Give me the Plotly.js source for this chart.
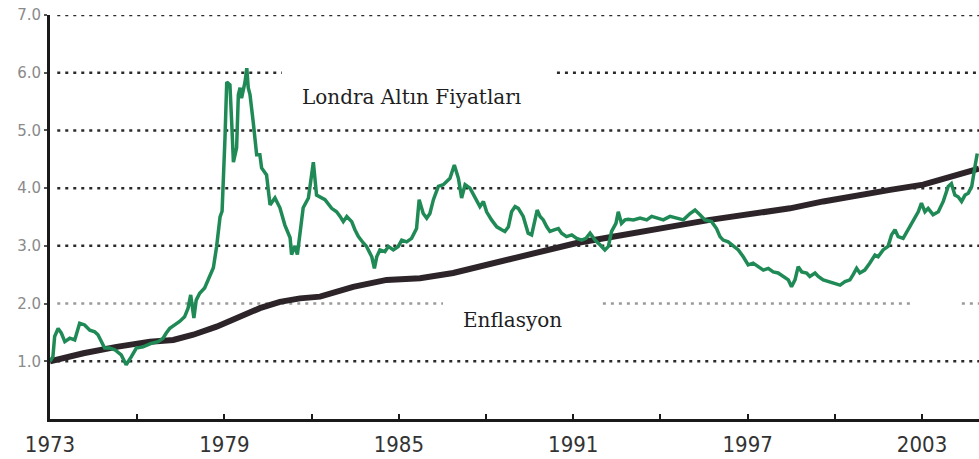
<!DOCTYPE html>
<html>
<head>
<meta charset="utf-8">
<script src="https://cdn.plot.ly/plotly-3.0.1.min.js"></script>
<style>
  html, body { margin: 0; padding: 0; background: #ffffff; }
  #chart { width: 979px; height: 459px; }
</style>
</head>
<body>
<div id="chart"></div>
<script>
// ---- Data ----
const goldYears = [
  1973.00, 1973.10, 1973.16, 1973.28, 1973.39, 1973.51, 1973.68, 1973.85, 1974.02, 1974.19,
  1974.37, 1974.54, 1974.65, 1974.76, 1974.88, 1975.05, 1975.23, 1975.45, 1975.62, 1975.80,
  1975.97, 1976.20, 1976.48, 1976.72, 1976.89, 1977.00, 1977.12, 1977.29, 1977.46, 1977.63,
  1977.75, 1977.84, 1977.95, 1978.03, 1978.15, 1978.32, 1978.44, 1978.55, 1978.62, 1978.73,
  1978.85, 1978.92, 1978.97, 1979.02, 1979.08, 1979.19, 1979.25, 1979.31, 1979.42, 1979.48,
  1979.54, 1979.59, 1979.71, 1979.77, 1979.82, 1979.88, 1979.99, 1980.11, 1980.22, 1980.28,
  1980.45, 1980.57, 1980.74, 1980.91, 1981.08, 1981.26, 1981.31, 1981.43, 1981.51, 1981.60,
  1981.71, 1981.89, 1982.06, 1982.17, 1982.29, 1982.46, 1982.69, 1982.86, 1982.98, 1983.09,
  1983.21, 1983.38, 1983.49, 1983.61, 1983.78, 1983.89, 1984.07, 1984.16, 1984.24, 1984.35,
  1984.52, 1984.64, 1984.81, 1984.98, 1985.10, 1985.27, 1985.44, 1985.61, 1985.70, 1985.84,
  1985.96, 1986.07, 1986.19, 1986.36, 1986.53, 1986.65, 1986.76, 1986.91, 1987.05, 1987.16,
  1987.28, 1987.45, 1987.62, 1987.79, 1987.91, 1988.02, 1988.19, 1988.37, 1988.54, 1988.65,
  1988.77, 1988.88, 1989.00, 1989.11, 1989.28, 1989.45, 1989.57, 1989.68, 1989.76, 1989.86,
  1989.97, 1990.09, 1990.20, 1990.37, 1990.49, 1990.60, 1990.77, 1990.95, 1991.12, 1991.29,
  1991.44, 1991.58, 1991.75, 1991.92, 1992.09, 1992.21, 1992.32, 1992.47, 1992.55, 1992.66,
  1992.78, 1992.89, 1993.07, 1993.30, 1993.53, 1993.70, 1993.87, 1994.10, 1994.33, 1994.56,
  1994.79, 1995.02, 1995.19, 1995.36, 1995.53, 1995.76, 1995.93, 1996.05, 1996.16, 1996.33,
  1996.51, 1996.68, 1996.85, 1997.02, 1997.19, 1997.37, 1997.54, 1997.71, 1997.88, 1998.05,
  1998.23, 1998.40, 1998.51, 1998.63, 1998.74, 1998.86, 1999.03, 1999.14, 1999.32, 1999.43,
  1999.60, 1999.77, 1999.94, 2000.18, 2000.35, 2000.52, 2000.63, 2000.75, 2000.86, 2001.03,
  2001.20, 2001.38, 2001.49, 2001.66, 2001.83, 2001.95, 2002.07, 2002.18, 2002.35, 2002.53,
  2002.70, 2002.87, 2002.98, 2003.10, 2003.21, 2003.38, 2003.56, 2003.73, 2003.90, 2004.01,
  2004.13, 2004.24, 2004.36, 2004.48, 2004.59, 2004.71, 2004.82, 2004.90
];
const goldValues = [
  1.00, 1.08, 1.43, 1.57, 1.49, 1.34, 1.40, 1.37, 1.66, 1.63,
  1.54, 1.51, 1.46, 1.34, 1.23, 1.23, 1.20, 1.11, 0.94, 1.08,
  1.23, 1.25, 1.31, 1.34, 1.40, 1.49, 1.57, 1.63, 1.69, 1.77,
  1.92, 2.15, 1.75, 2.06, 2.18, 2.27, 2.41, 2.53, 2.62, 2.98,
  3.50, 3.60, 4.10, 4.87, 5.84, 5.79, 5.15, 4.45, 4.70, 5.62,
  5.74, 5.56, 5.84, 6.08, 5.74, 5.62, 5.15, 4.58, 4.58, 4.35,
  4.23, 3.71, 3.83, 3.66, 3.36, 3.14, 2.85, 3.00, 2.85, 3.19,
  3.66, 3.83, 4.45, 3.88, 3.85, 3.80, 3.65, 3.59, 3.51, 3.42,
  3.51, 3.42, 3.28, 3.16, 3.05, 2.99, 2.81, 2.61, 2.81, 2.93,
  2.90, 2.99, 2.93, 2.99, 3.10, 3.07, 3.13, 3.30, 3.80, 3.56,
  3.48, 3.56, 3.80, 4.03, 4.06, 4.11, 4.17, 4.40, 4.17, 3.83,
  4.06, 4.00, 3.83, 3.68, 3.77, 3.59, 3.45, 3.33, 3.28, 3.25,
  3.33, 3.59, 3.68, 3.65, 3.51, 3.22, 3.19, 3.45, 3.62, 3.51,
  3.45, 3.33, 3.25, 3.28, 3.30, 3.22, 3.16, 3.19, 3.13, 3.10,
  3.13, 3.22, 3.10, 3.02, 2.93, 2.99, 3.25, 3.39, 3.59, 3.39,
  3.45, 3.46, 3.45, 3.48, 3.45, 3.51, 3.48, 3.45, 3.51, 3.48,
  3.45, 3.56, 3.62, 3.54, 3.45, 3.42, 3.30, 3.16, 3.10, 3.07,
  2.99, 2.93, 2.81, 2.67, 2.70, 2.64, 2.58, 2.61, 2.55, 2.53,
  2.47, 2.41, 2.29, 2.41, 2.64, 2.55, 2.53, 2.47, 2.53, 2.47,
  2.41, 2.38, 2.35, 2.32, 2.38, 2.41, 2.50, 2.61, 2.53, 2.58,
  2.70, 2.84, 2.81, 2.93, 2.99, 3.19, 3.28, 3.16, 3.13, 3.28,
  3.45, 3.59, 3.74, 3.59, 3.65, 3.54, 3.59, 3.77, 4.03, 4.08,
  3.88, 3.85, 3.77, 3.88, 3.91, 4.03, 4.37, 4.60
];

const inflationYears = [
  1973.00, 1974.15, 1975.29, 1976.44, 1977.24, 1977.93, 1978.73, 1979.54, 1980.22, 1980.91,
  1981.60, 1982.29, 1983.43, 1984.58, 1985.73, 1986.87, 1988.02, 1989.17, 1989.97, 1991.12,
  1992.26, 1993.41, 1994.56, 1995.70, 1996.16, 1997.31, 1998.46, 1999.60, 2000.75, 2001.90,
  2003.04, 2004.19, 2004.96
];
const inflationValues = [
  1.00, 1.14, 1.25, 1.34, 1.37, 1.46, 1.60, 1.77, 1.92, 2.03,
  2.09, 2.12, 2.29, 2.41, 2.44, 2.53, 2.67, 2.81, 2.93, 3.05,
  3.15, 3.26, 3.35, 3.45, 3.48, 3.56, 3.65, 3.77, 3.88, 3.97,
  4.06, 4.23, 4.34
];

const xTickYears  = [1973, 1976, 1979, 1982, 1985, 1988, 1991, 1994, 1997, 2000, 2003];
const xTickLabels = ['1973', '', '1979', '', '1985', '', '1991', '', '1997', '', '2003'];
const yTickValues = [1, 2, 3, 4, 5, 6, 7];
const yTickLabels = ['1.0', '2.0', '3.0', '4.0', '5.0', '6.0', '7.0'];

const goldLabel = 'Londra Altın Fiyatları';
const inflationLabel = 'Enflasyon';

// ---- Layout helpers ----
const X_RANGE = [1973, 2004.96];
const Y_RANGE = [0, 7];
const GRID_START = 1973.25;
// gaps in the dotted guide lines (where the labels sit)
const gridGaps = {
  6: [[1980.98, 1990.44]],
  2: [[1986.52, 1992.02], [2002.65, 2004.37]]
};

const shapes = [];
yTickValues.forEach(v => {
  const gaps = gridGaps[v] || [];
  let start = GRID_START;
  const segs = [];
  gaps.forEach(g => { segs.push([start, g[0]]); start = g[1]; });
  segs.push([start, X_RANGE[1]]);
  segs.forEach(s => {
    shapes.push({
      type: 'line', layer: 'below', xref: 'x', yref: 'y',
      x0: s[0], x1: s[1], y0: v, y1: v,
      line: { color: v === 2 ? '#9a9a9a' : '#2a2a2a', width: 2.5, dash: '3px,5px' }
    });
  });
});

const traces = [
  {
    x: inflationYears, y: inflationValues, type: 'scatter', mode: 'lines',
    name: inflationLabel, line: { color: '#2c2428', width: 6 }, hoverinfo: 'skip'
  },
  {
    x: goldYears, y: goldValues, type: 'scatter', mode: 'lines',
    name: goldLabel, line: { color: '#1f8a55', width: 3.5 }, hoverinfo: 'skip'
  }
];

const layout = {
  width: 979, height: 459,
  margin: { l: 50, r: 0, t: 15, b: 40 },
  paper_bgcolor: '#ffffff', plot_bgcolor: '#ffffff',
  showlegend: false,
  xaxis: {
    range: X_RANGE, showgrid: false, zeroline: false,
    showline: true, linecolor: '#1a1a1a', linewidth: 3,
    tickmode: 'array', tickvals: xTickYears, ticktext: xTickLabels,
    ticks: 'inside', ticklen: 5, tickwidth: 2, tickcolor: '#1a1a1a',
    tickfont: { family: 'Liberation Sans Narrow, DejaVu Sans Condensed, Arial Narrow, sans-serif', size: 22, color: '#333333' },
    ticklabelstandoff: 4
  },
  yaxis: {
    range: Y_RANGE, showgrid: false, zeroline: false,
    showline: true, linecolor: '#1a1a1a', linewidth: 3,
    tickmode: 'array', tickvals: yTickValues, ticktext: yTickLabels,
    ticks: 'outside', ticklen: 3, tickwidth: 2, tickcolor: '#555555',
    tickfont: { family: 'DejaVu Sans, Verdana, sans-serif', size: 15, color: '#8a8a8a' }
  },
  shapes: shapes,
  annotations: [
    {
      text: goldLabel, xref: 'x', yref: 'y', x: 1985.45, y: 5.58,
      showarrow: false, font: { family: 'DejaVu Serif, Liberation Serif, serif', size: 20, color: '#1e1e1e' }
    },
    {
      text: inflationLabel, xref: 'x', yref: 'y', x: 1988.9, y: 1.72,
      showarrow: false, font: { family: 'DejaVu Serif, Liberation Serif, serif', size: 20, color: '#1e1e1e' }
    }
  ]
};

Plotly.newPlot('chart', traces, layout, { staticPlot: true, displayModeBar: false });
</script>
</body>
</html>
